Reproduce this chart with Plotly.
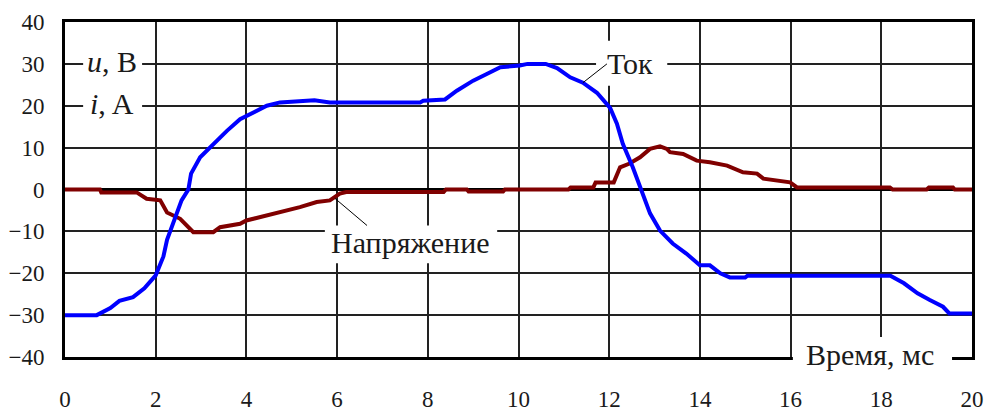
import plotly.graph_objects as go

# ---- data ----
t_cur = [0, 0.7, 1.0, 1.2, 1.5, 1.75, 2.0, 2.17, 2.25, 2.4, 2.57, 2.72, 2.78, 2.98, 3.27,
         3.57, 3.86, 4.15, 4.45, 4.74, 5.2, 5.5, 5.84, 7.83, 7.9, 8.38, 8.64, 9.0, 9.3,
         9.6, 10.03, 10.2, 10.6, 10.85, 11.14, 11.42, 11.73, 12.02, 12.17, 12.3, 12.52,
         12.75, 12.9, 13.12, 13.4, 13.7, 14.0, 14.22, 14.45, 14.66, 15.0, 15.05, 18.2,
         18.5, 18.8, 19.07, 19.36, 19.5, 20]
i_cur = [-30, -30, -28.3, -26.6, -25.7, -23.6, -20.5, -16, -12, -7.4, -2.6, 0, 3.8, 7.7, 10.9,
         14, 16.8, 18.4, 20, 20.8, 21.2, 21.3, 20.8, 20.8, 21.2, 21.5, 23.6, 26, 27.6,
         29.2, 29.6, 30, 30, 29, 26.8, 25.5, 23.1, 19.5, 15.7, 10.9, 5.3,
         -1, -5.7, -9.8, -12.9, -15.3, -18.1, -18.1, -20, -21, -21, -20.6, -20.6,
         -22.4, -24.8, -26.4, -28, -29.6, -29.6]

t_volt = [0, 0.77, 0.8, 1.58, 1.8, 2.1, 2.25, 2.54, 2.83, 3.27, 3.42, 3.86, 4.0, 4.45, 4.8,
          5.18, 5.55, 5.84, 6.06, 6.2, 8.35, 8.4, 8.86, 8.9, 9.66, 9.7, 11.1, 11.15, 11.65,
          11.7, 12.1, 12.24, 12.45, 12.68, 12.9, 13.12, 13.27, 13.34, 13.63, 13.93, 14.22,
          14.6, 14.95, 15.26, 15.4, 15.99, 16.14, 18.19, 18.25, 19.0, 19.05, 19.58, 19.62, 20]
u_volt = [0, 0, -0.7, -0.7, -2.2, -2.6, -5.5, -7, -10.2, -10.2, -9, -8.2, -7.4, -6.2, -5.4,
          -4.2, -3, -2.6, -1, -0.6, -0.6, 0, 0, -0.5, -0.5, 0, 0, 0.5, 0.5,
          1.7, 1.7, 5.3, 6.2, 7.7, 9.7, 10.3, 9.7, 8.9, 8.5, 6.9, 6.5,
          5.7, 4.1, 3.8, 2.6, 1.7, 0.5, 0.5, 0, 0, 0.5, 0.5, 0, 0]

x_ticks = [0, 2, 4, 6, 8, 10, 12, 14, 16, 18, 20]
y_ticks = [-40, -30, -20, -10, 0, 10, 20, 30, 40]

X0, X1 = 0, 20
Y0, Y1 = -40, 40

FONT = "Liberation Serif, DejaVu Serif, serif"
TXT = "#1a1a1a"

fig = go.Figure()
fig.add_trace(go.Scatter(x=t_volt, y=u_volt, mode="lines",
                         line=dict(color="#800000", width=4), showlegend=False))
fig.add_trace(go.Scatter(x=t_cur, y=i_cur, mode="lines",
                         line=dict(color="#0000ff", width=4), showlegend=False))


def px(x):
    return (x - X0) / (X1 - X0)


def py(y):
    return (y - Y0) / (Y1 - Y0)


def white_box(xa, xb, ya, yb):
    fig.add_shape(type="rect", xref="paper", yref="paper",
                  x0=px(xa), x1=px(xb), y0=py(ya), y1=py(yb),
                  fillcolor="white", line=dict(width=0), layer="above")


white_box(0.40, 1.70, 17.5, 36.5)
white_box(11.71, 13.28, 24.8, 35.5)
white_box(5.73, 9.53, -17.6, -8.6)
white_box(16.05, 19.56, -46, -35.2)

# leader lines
fig.add_shape(type="line", x0=11.42, y0=25.5, x1=11.95, y1=30,
              line=dict(color="black", width=1))
fig.add_shape(type="line", x0=5.95, y0=-2.1, x1=6.66, y1=-8.6,
              line=dict(color="black", width=1))

ann = dict(showarrow=False, font=dict(family=FONT, size=30, color=TXT))
fig.add_annotation(x=1.04, y=30.5, text="<i>u</i>, B", **ann)
fig.add_annotation(x=1.04, y=20.5, text="<i>i</i>, A", **ann)
fig.add_annotation(x=12.45, y=30.2, text="Ток", **ann)
fig.add_annotation(x=7.61, y=-12.6, text="Напряжение", **ann)
fig.add_annotation(x=17.76, y=-39.5, text="Время, мс", **ann)

axis_common = dict(showgrid=True, gridcolor="#222222", gridwidth=2,
                   showline=True, linecolor="black", linewidth=3, mirror=True,
                   automargin=False,
                   ticks="", tickfont=dict(family=FONT, size=23, color=TXT))
fig.update_xaxes(range=[X0, X1], tickvals=x_ticks, zeroline=False,
                 ticklabelstandoff=19, **axis_common)
fig.update_yaxes(range=[Y0, Y1], tickvals=y_ticks, zeroline=True,
                 zerolinecolor="black", zerolinewidth=3,
                 ticklabelstandoff=13, **axis_common)

fig.update_layout(width=986, height=412, margin=dict(l=65, r=14, t=22, b=55),
                  paper_bgcolor="white", plot_bgcolor="white",
                  font=dict(family=FONT, color=TXT))

fig.write_html("out.html")
